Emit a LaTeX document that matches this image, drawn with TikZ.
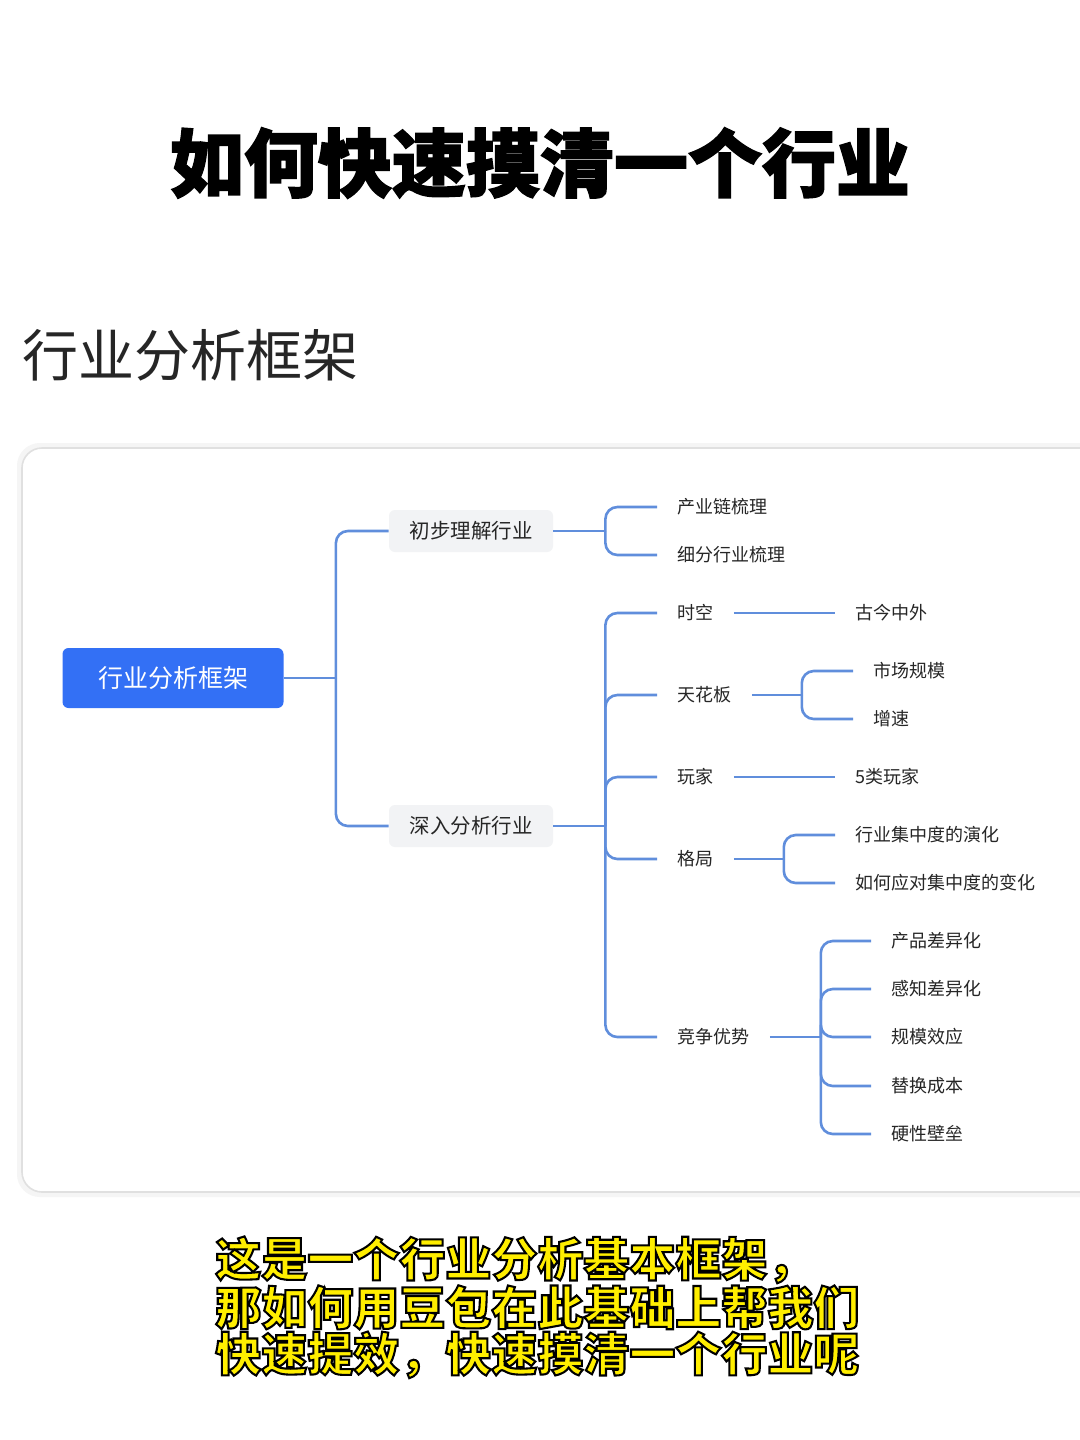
\documentclass[tikz,border=0pt]{standalone}
\usepackage{fontspec}
\setmainfont{Noto Sans CJK SC}
\newfontfamily\heavyfont{Noto Sans CJK SC}[BoldFeatures={FakeBold=2}]
\newfontfamily\capfont{Noto Sans CJK SC}[BoldFeatures={FakeBold=4.5}]
% stroke colour for the faked bold outline of the caption
\newcommand{\blackedge}{\special{pdf:literal direct 0 0 0 RG}}
\newcommand{\tightlines}{\lineskiplimit=-10pt\relax}

\definecolor{rootblue}{RGB}{51,112,245}
\definecolor{linkblue}{RGB}{96,142,220}
\definecolor{boxgray}{RGB}{242,243,245}
\definecolor{textdark}{RGB}{38,38,38}
\definecolor{captionyellow}{RGB}{255,238,0}
\definecolor{cardedge}{RGB}{224,224,224}

\begin{document}
\begin{tikzpicture}[x=0.5pt, y=-0.5pt,
    link/.style={draw=linkblue, line width=1.3pt, rounded corners=6pt},
    rootbox/.style={fill=rootblue, text=white, rounded corners=3pt, inner xsep=17.75pt,
        minimum height=30pt, font=\fontsize{12.5}{15}\selectfont},
    topicbox/.style={fill=boxgray, text=textdark, rounded corners=3pt, inner xsep=10.25pt,
        minimum height=21pt, font=\fontsize{10.25}{12}\selectfont},
    leaf/.style={anchor=west, inner xsep=10pt, text=textdark, font=\fontsize{9}{11}\selectfont}]

% page
\fill[white] (0,0) rectangle (1080,1440);
\useasboundingbox (0,0) rectangle (1080,1440);

% titles
\node[font=\heavyfont\bfseries\fontsize{37}{40}\selectfont] (title) at (540,163) {如何快速摸清一个行业};
\node[anchor=west, inner sep=0pt, text=textdark, font=\fontsize{28}{32}\selectfont] (subtitle) at (22,355) {行业分析框架};

% draw card
\draw[gray!8, line width=3pt, rounded corners=10pt] (1080,446) -| (20,1194) -- (1080,1194);
\draw[cardedge, line width=0.8pt, fill=white, rounded corners=10pt] (1080,448) -| (22,1192) -- (1080,1192);

% root and first level
\node[rootbox] (root) at (173,678) {行业分析框架};
\node[topicbox] (chubu) at (471,531) {初步理解行业};
\node[topicbox] (shenru) at (471,826) {深入分析行业};

\draw[link] (root.east) -- ++(52,0) coordinate (jroot);
\foreach \n in {chubu,shenru}
    \draw[link] (jroot) |- (\n.west);

% first branch
\node[leaf] (chanye) at (657,507) {产业链梳理};
\node[leaf] (xifen) at (657,555) {细分行业梳理};

\draw[link] (chubu.east) -- ++(52,0) coordinate (jchubu);
\foreach \n in {chanye,xifen}
    \draw[link] (jchubu) |- (\n.west);

% second branch
\node[leaf] (shikong) at (657,613) {时空};
\node[leaf] (tianhua) at (657,695) {天花板};
\node[leaf] (wanjia) at (657,777) {玩家};
\node[leaf] (geju) at (657,859) {格局};
\node[leaf] (jingzheng) at (657,1037) {竞争优势};

\draw[link] (shenru.east) -- ++(52,0) coordinate (jshenru);
\foreach \n in {shikong,tianhua,wanjia,geju,jingzheng}
    \draw[link] (jshenru) |- (\n.west);

% third level
\node[leaf] (gujin) at (835,613) {古今中外};
\draw[link] (shikong.east) -- (gujin.west);

\node[leaf] (shichang) at (853,671) {市场规模};
\node[leaf] (zengsu) at (853,719) {增速};
\draw[link] (tianhua.east) -- ++(50,0) coordinate (jtianhua);
\foreach \n in {shichang,zengsu}
    \draw[link] (jtianhua) |- (\n.west);

\node[leaf] (wulei) at (835,777) {5类玩家};
\draw[link] (wanjia.east) -- (wulei.west);

\node[leaf] (yanhua) at (835,835) {行业集中度的演化};
\node[leaf] (bianhua) at (835,883) {如何应对集中度的变化};
\draw[link] (geju.east) -- ++(50,0) coordinate (jgeju);
\foreach \n in {yanhua,bianhua}
    \draw[link] (jgeju) |- (\n.west);

\node[leaf] (chanpin) at (871,941) {产品差异化};
\node[leaf] (ganzhi) at (871,989) {感知差异化};
\node[leaf] (guimo) at (871,1037) {规模效应};
\node[leaf] (tihuan) at (871,1086) {替换成本};
\node[leaf] (bilei) at (871,1134) {硬性壁垒};
\draw[link] (jingzheng.east) -- ++(51,0) coordinate (jjing);
\foreach \n in {chanpin,ganzhi,guimo,tihuan,bilei}
    \draw[link] (jjing) |- (\n.west);

% caption
\node[anchor=north west, inner sep=0pt, align=left, text=captionyellow,
    font=\capfont\bfseries\fontsize{23}{22}\selectfont] (caption) at (215,1236)
    {\tightlines\blackedge 这是一个行业分析基本框架，\\
     \blackedge 那如何用豆包在此基础上帮我们\\
     \blackedge 快速提效，快速摸清一个行业呢};

\end{tikzpicture}
\end{document}
